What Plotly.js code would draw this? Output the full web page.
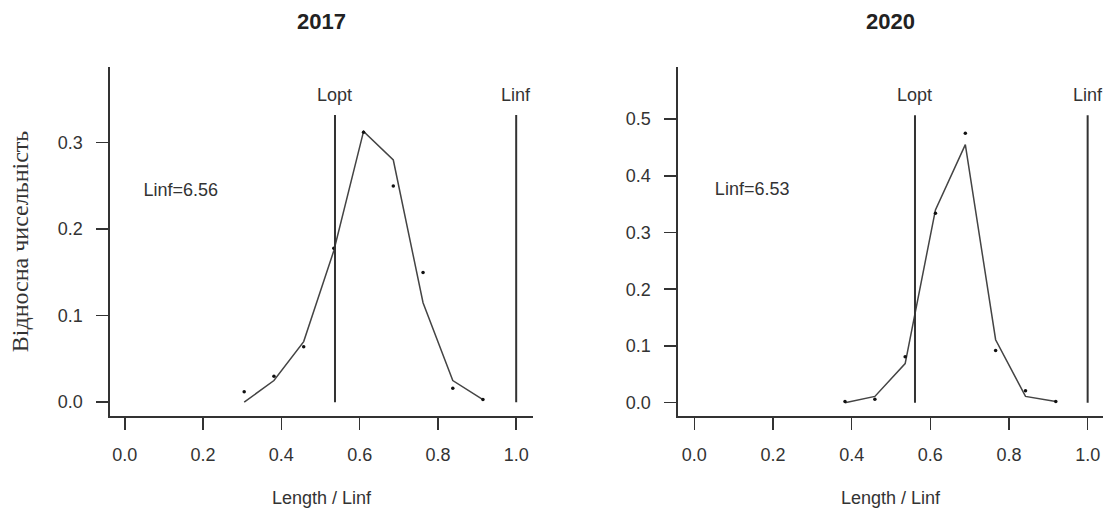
<!DOCTYPE html>
<html><head><meta charset="utf-8">
<script src="https://cdn.plot.ly/plotly-3.0.1.min.js"></script>
<style>html,body{margin:0;padding:0;background:#fff}</style>
</head><body><div id="chart" style="width:1113px;height:513px"></div>
<script>
const panelTitles = ["2017", "2020"];
const linfLabels = ["Linf=6.56", "Linf=6.53"];
const x2017 = [0.305, 0.381, 0.457, 0.534, 0.610, 0.686, 0.762, 0.838, 0.915];
const obs2017 = [0.012, 0.030, 0.064, 0.178, 0.312, 0.250, 0.150, 0.016, 0.003];
const fit2017 = [0.000, 0.025, 0.070, 0.175, 0.313, 0.280, 0.115, 0.025, 0.003];
const x2020 = [0.383, 0.459, 0.536, 0.613, 0.689, 0.766, 0.842, 0.919];
const obs2020 = [0.002, 0.006, 0.081, 0.334, 0.475, 0.092, 0.021, 0.002];
const fit2020 = [0.000, 0.011, 0.069, 0.340, 0.455, 0.111, 0.011, 0.002];
const loptX = [0.537, 0.561];
const linfX = [1.0, 1.0];
const refLineTop = [0.332, 0.507];
const refLabels = ["Lopt", "Linf"];
const linfTextPos = [[0.143, 0.244], [0.147, 0.374]];
const xTicks = [0, 0.2, 0.4, 0.6, 0.8, 1.0];
const yTicks2017 = [0, 0.1, 0.2, 0.3];
const yTicks2020 = [0, 0.1, 0.2, 0.3, 0.4, 0.5];
const xRanges = [[-0.038, 1.043], [-0.0415, 1.039]];
const yRanges = [[-0.016, 0.3875], [-0.0235, 0.592]];

const ink = '#333';
const sans = 'Liberation Sans, Arial, sans-serif';
const tickFont = {family: sans, size: 18, color: ink};
const panels = [
  {x: x2017, obs: obs2017, fit: fit2017, yTicks: yTicks2017},
  {x: x2020, obs: obs2020, fit: fit2020, yTicks: yTicks2020}
];
const traces = [];
const annotations = [];
panels.forEach((p, i) => {
  const xa = i === 0 ? 'x' : 'x2', ya = i === 0 ? 'y' : 'y2';
  traces.push({x: p.x, y: p.fit, xaxis: xa, yaxis: ya, mode: 'lines', type: 'scatter',
    line: {color: '#444', width: 1.5}, hoverinfo: 'skip'});
  traces.push({x: p.x, y: p.obs, xaxis: xa, yaxis: ya, mode: 'markers', type: 'scatter',
    marker: {color: '#111', size: 3.5}});
  traces.push({x: [loptX[i], loptX[i]], y: [0, refLineTop[i]], xaxis: xa, yaxis: ya, mode: 'lines',
    type: 'scatter', line: {color: ink, width: 2}});
  traces.push({x: [linfX[i], linfX[i]], y: [0, refLineTop[i]], xaxis: xa, yaxis: ya, mode: 'lines',
    type: 'scatter', line: {color: ink, width: 2}});
  [loptX[i], linfX[i]].forEach((xv, k) => annotations.push({
    text: refLabels[k], xref: xa, yref: ya, x: xv, y: refLineTop[i],
    xanchor: 'center', yanchor: 'bottom', yshift: 8, showarrow: false, font: tickFont}));
  traces.push({x: [linfTextPos[i][0]], y: [linfTextPos[i][1]], xaxis: xa, yaxis: ya,
    mode: 'text', type: 'scatter', text: [linfLabels[i]], textposition: 'middle center',
    textfont: tickFont});
});

function xAxis(i, dom) {
  return {domain: dom, range: xRanges[i], anchor: i === 0 ? 'y' : 'y2',
    showline: true, linecolor: ink, linewidth: 1.6, mirror: false,
    ticks: 'outside', ticklen: 12, tickwidth: 1.6, tickcolor: ink,
    tickvals: xTicks, tickformat: '.1f', tickfont: tickFont, ticklabelstandoff: 10,
    showgrid: false, zeroline: false,
    title: {text: 'Length / Linf', font: tickFont, standoff: 27}};
}
function yAxis(i, ticks) {
  return {domain: [0.1891, 0.8694], range: yRanges[i], anchor: i === 0 ? 'x' : 'x2',
    showline: true, linecolor: ink, linewidth: 1.6, mirror: false,
    ticks: 'outside', ticklen: 12, tickwidth: 1.6, tickcolor: ink,
    tickvals: ticks, tickformat: '.1f', tickfont: tickFont, ticklabelstandoff: 10,
    showgrid: false, zeroline: false};
}
const yax1 = yAxis(0, yTicks2017);
yax1.title = {text: 'Відносна чисельність', font: {family: 'Liberation Serif, Times New Roman, serif', size: 24, color: ink}, standoff: 22};

panelTitles.forEach((t, i) => annotations.push({
  text: '<b>' + t + '</b>', xref: 'paper', yref: 'paper',
  x: i === 0 ? (0.0988 + 0.4789) / 2 : (0.6092 + 0.9910) / 2, y: 1 - 21 / 513,
  xanchor: 'center', yanchor: 'middle', showarrow: false,
  font: {family: sans, size: 22, color: '#222'}}));

const layout = {
  width: 1113, height: 513, margin: {l: 0, r: 0, t: 0, b: 0},
  paper_bgcolor: '#fff', plot_bgcolor: '#fff', showlegend: false,
  xaxis: xAxis(0, [0.0988, 0.4789]), yaxis: yax1,
  xaxis2: xAxis(1, [0.6092, 0.9910]), yaxis2: yAxis(1, yTicks2020),
  annotations: annotations
};
Plotly.newPlot('chart', traces, layout, {displayModeBar: false, staticPlot: true});
</script></body></html>
